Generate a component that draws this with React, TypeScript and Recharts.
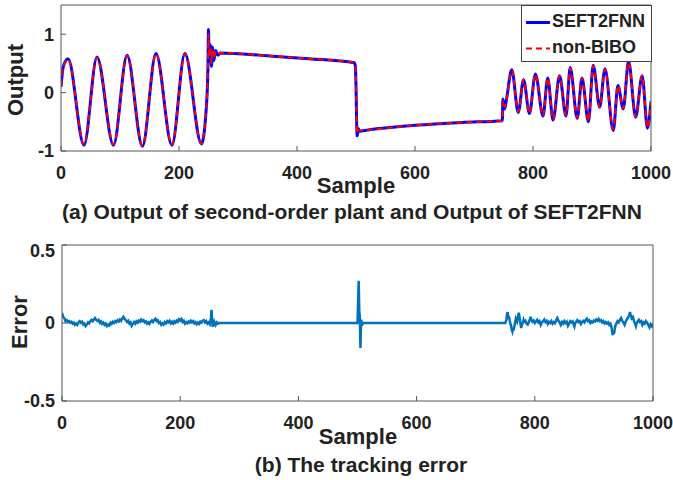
import { LineChart, Line, XAxis, YAxis } from 'recharts'

// sample index + output values (peaks, troughs, steps)
const outSamples = [
  0, 4, 12, 39, 61, 89, 112, 138, 161, 188, 210, 238, 246, 249, 250, 251, 253, 255, 257, 259, 262, 266, 270,
  350, 420, 497, 499, 502, 504, 506, 520, 600, 680, 748, 749, 752, 755, 764, 775, 784, 794, 804, 817, 825, 834,
  845, 856, 863, 875, 883, 894, 902, 913, 922, 936, 944, 953, 962, 974, 985, 994, 1000,
]
const seft2fnn = [
  0.1, 0.45, 0.58, -0.9, 0.61, -0.9, 0.64, -0.92, 0.67, -0.9, 0.67, -0.88, -0.3, 0.4, 1.08, 0.55, 0.82, 0.45, 0.78, 0.55, 0.72, 0.64, 0.68,
  0.63, 0.58, 0.51, 0.45, -0.74, -0.62, -0.66, -0.64, -0.56, -0.51, -0.48, -0.11, -0.28, -0.12, 0.39, -0.34, 0.22, -0.36, 0.32, -0.4, 0.25, -0.47,
  0.29, -0.4, 0.43, -0.44, 0.25, -0.5, 0.47, -0.25, 0.41, -0.65, 0.12, -0.28, 0.54, -0.42, 0.29, -0.61, -0.15,
]
const nonBibo = [
  0.12, 0.44, 0.57, -0.89, 0.6, -0.89, 0.63, -0.91, 0.66, -0.89, 0.66, -0.87, -0.28, 0.42, 1.0, 0.6, 0.78, 0.5, 0.74, 0.58, 0.7, 0.65, 0.68,
  0.63, 0.58, 0.51, 0.46, -0.7, -0.64, -0.65, -0.64, -0.56, -0.51, -0.48, -0.14, -0.25, -0.13, 0.38, -0.33, 0.22, -0.35, 0.31, -0.39, 0.25, -0.46,
  0.29, -0.39, 0.42, -0.43, 0.25, -0.49, 0.46, -0.25, 0.4, -0.63, 0.12, -0.27, 0.52, -0.41, 0.29, -0.6, -0.16,
]

// tracking error [sample, error]
const errStart: [number, number][] = [
  [0, 0.065], [2, 0.04], [4, 0.03], [6, 0.012], [8, 0.018], [10, 0.006], [12, 0.012], [14, 0.002], [16, 0.008], [18, -0.004],
  [20, 0.002], [22, -0.012], [24, -0.004], [26, -0.012], [28, 0.004], [30, 0.012], [32, 0.002], [34, 0.008], [36, -0.01], [38, -0.004],
  [40, -0.02], [42, -0.01], [44, 0.004], [46, -0.002], [48, 0.012], [50, 0.02], [52, 0.012], [54, 0.024], [56, 0.032], [58, 0.02],
  [60, 0.014], [62, 0.02], [64, 0.002], [66, 0.01], [68, -0.006], [70, 0.002], [72, -0.012], [74, -0.004], [76, -0.02], [78, -0.01],
  [80, -0.016], [82, 0.002], [84, -0.006], [86, 0.008], [88, 0], [90, 0.012], [92, 0.006], [94, 0.018], [96, 0.01], [98, 0.022],
  [100, 0.014], [102, 0.03], [104, 0.04], [106, 0.026], [108, 0.018], [110, 0.006], [112, 0.014], [114, -0.004], [116, 0.004], [118, -0.018],
  [120, -0.006], [122, 0.006], [124, -0.004], [126, 0.01], [128, 0.002], [130, 0.016], [132, 0.008], [134, 0.022], [136, 0.012], [138, 0.018],
  [140, 0.004], [142, 0.01], [144, -0.004], [146, 0.004], [148, -0.006], [150, 0.008], [152, 0.016], [154, 0.006], [156, 0.02], [158, 0.028],
  [160, 0.012], [162, 0.018], [164, 0], [166, 0.006], [168, -0.012], [170, -0.002], [172, -0.01], [174, 0.006], [176, -0.002], [178, 0.012],
  [180, 0.004], [182, 0.014], [184, -0.002], [186, 0.008], [188, -0.004], [190, 0.01], [192, 0.002], [194, 0.016], [196, 0.008], [198, 0.024],
  [200, 0.016], [202, 0.026], [204, 0.006], [206, 0.014], [208, -0.004], [210, 0.006], [212, -0.002], [214, 0.01], [216, 0.002], [218, 0.014],
  [220, 0.004], [222, 0.012], [224, -0.002], [226, 0.006], [228, -0.008], [230, 0.002], [232, -0.006], [234, 0.008], [236, 0.002], [238, 0.014],
  [240, 0.018], [242, 0.004], [244, 0.012], [246, -0.004], [248, 0.004], [250, -0.008], [252, 0.03], [253, 0.085], [254, 0.02], [255, -0.025],
  [256, 0.01], [257, -0.018], [258, 0.006], [260, -0.012], [262, 0.004], [264, -0.004], [266, 0],
]
const errMiddle: [number, number][] = [
  [500, 0], [502, 0.27], [503, 0.08], [504, 0.04], [505, -0.16], [506, 0.02], [508, -0.01], [510, 0],
]
const errEnd: [number, number][] = [
  [750, 0], [752, 0.02], [753, 0.06], [754, 0.07], [755, 0.03], [756, 0.045], [758, 0.008], [760, -0.02], [761, -0.045], [762, -0.055],
  [763, -0.03], [764, -0.048], [766, -0.01], [768, 0.028], [770, 0.01], [772, 0.05], [773, 0.066], [774, 0.04], [776, -0.01], [777, -0.032],
  [778, -0.015], [780, 0.006], [781, 0.02], [782, 0.008], [784, 0.014], [786, -0.004], [788, -0.01], [790, 0.006], [792, 0.028], [793, 0.04],
  [794, 0.02], [796, 0.008], [798, 0.016], [800, 0], [802, 0.01], [804, 0.02], [806, 0.004], [808, 0.012], [810, -0.012], [812, 0.004],
  [814, 0.01], [816, 0.022], [818, 0.006], [820, 0.014], [822, -0.006], [824, 0.008], [826, 0], [828, 0.012], [830, -0.004], [832, 0.006],
  [834, -0.002], [836, 0.016], [838, 0.032], [840, 0.014], [842, 0.004], [844, -0.012], [846, 0.006], [848, -0.004], [850, 0.012], [852, 0],
  [854, 0.008], [856, -0.018], [858, -0.004], [860, 0.012], [862, 0.004], [864, 0.01], [866, -0.012], [867, -0.022], [868, -0.006], [870, 0.008],
  [872, 0.018], [874, 0.006], [876, 0.012], [878, -0.006], [880, 0.006], [882, 0.014], [884, 0.004], [886, 0.02], [888, 0.028], [890, 0.012],
  [892, 0.018], [894, 0], [896, 0.01], [898, 0.004], [900, 0.016], [902, 0.01], [904, 0.022], [906, 0.014], [908, 0.026], [910, 0.012],
  [912, 0.018], [914, 0.004], [916, 0.012], [918, -0.002], [920, 0.006], [922, -0.004], [924, 0.004], [926, -0.012], [928, -0.004], [930, -0.03],
  [931, -0.06], [932, -0.078], [933, -0.055], [934, -0.07], [936, -0.022], [938, -0.004], [940, 0.012], [942, 0.004], [944, 0.02], [946, 0.032],
  [948, 0.014], [950, 0.002], [952, -0.012], [954, 0.01], [956, 0.024], [958, 0.036], [960, 0.05], [961, 0.07], [962, 0.055], [964, 0.03],
  [966, 0.038], [968, 0.01], [970, -0.008], [971, -0.02], [972, -0.004], [974, 0.01], [976, 0.02], [978, 0.006], [980, 0.012], [982, -0.012],
  [984, 0.004], [986, -0.004], [988, 0.012], [990, 0.002], [992, -0.012], [994, -0.028], [996, -0.008], [998, -0.02], [1000, -0.004],
]

const xTicks = [0, 200, 400, 600, 800, 1000]
const outTicks = [-1, 0, 1]
const errTicks = [-0.5, 0, 0.5]

const seftData = outSamples.map((x, i) => ({ x, y: seft2fnn[i] }))
const biboData = outSamples.map((x, i) => ({ x, y: nonBibo[i] }))
const errData = [...errStart, ...errMiddle, ...errEnd].map(([x, y]) => ({ x, y }))

const FONT = '"Liberation Sans", Arial, sans-serif'
const TXT = '#222'
const AX = '#555'
const tickStyle = { fill: TXT, fontSize: 18, fontWeight: 700, fontFamily: FONT }
const blank = () => ''

function Axes({ yTicks, yDomain, left, right }: { yTicks: number[]; yDomain: number[]; left: number; right: number }) {
  return [
    <XAxis key="xb" xAxisId="b" dataKey="x" type="number" domain={[0, 1000]} ticks={xTicks} allowDataOverflow
      stroke={AX} tickSize={-5} tickMargin={20} tick={tickStyle} height={30} />,
    <XAxis key="xt" xAxisId="t" orientation="top" dataKey="x" type="number" domain={[0, 1000]} ticks={xTicks}
      stroke={AX} tickSize={-5} tickFormatter={blank} height={5} />,
    <YAxis key="yl" yAxisId="l" type="number" domain={yDomain} ticks={yTicks} allowDataOverflow
      stroke={AX} tickSize={-5} tickMargin={12} tick={tickStyle} width={left} />,
    <YAxis key="yr" yAxisId="r" orientation="right" type="number" domain={yDomain} ticks={yTicks}
      stroke={AX} tickSize={-5} tickFormatter={blank} width={right} />,
  ]
}

const abs = (left: number, top: number, extra: object = {}) => ({
  position: 'absolute' as const,
  left,
  top,
  fontFamily: FONT,
  fontWeight: 700,
  color: TXT,
  whiteSpace: 'nowrap' as const,
  ...extra,
})

export default function App() {
  return (
    <div style={{ position: 'fixed', left: 0, top: 0, width: 673, height: 480, background: '#fff', overflow: 'hidden' }}>
      <div style={{ position: 'absolute', left: 0, top: 0 }}>
        <LineChart width={673} height={200} margin={{ top: 0, right: 0, bottom: 19, left: 0 }}>
          {Axes({ yTicks: outTicks, yDomain: [-1, 1.5], left: 61, right: 22 })}
          <Line data={seftData} dataKey="y" xAxisId="b" yAxisId="l" type="monotone" stroke="#0000ff"
            strokeWidth={3} dot={false} isAnimationActive={false} />
          <Line data={biboData} dataKey="y" xAxisId="b" yAxisId="l" type="monotone" stroke="#ff0000"
            strokeWidth={2} strokeDasharray="6 4" dot={false} isAnimationActive={false} />
        </LineChart>
      </div>
      <div style={{ position: 'absolute', left: 0, top: 240 }}>
        <LineChart width={673} height={200} margin={{ top: 0, right: 0, bottom: 9, left: 0 }}>
          {Axes({ yTicks: errTicks, yDomain: [-0.5, 0.5], left: 62, right: 20 })}
          <Line data={errData} dataKey="y" xAxisId="b" yAxisId="l" type="linear" stroke="#0072bd"
            strokeWidth={2.5} dot={false} isAnimationActive={false} />
        </LineChart>
      </div>

      {/* legend */}
      <div style={{ position: 'absolute', left: 521, top: 5, width: 129, height: 55, background: '#fff', border: '1px solid #444' }}>
        <svg width={28} height={55} style={{ position: 'absolute', left: 2, top: 0 }}>
          <line x1={2} x2={26} y1={16.5} y2={16.5} stroke="#0000ff" strokeWidth={3} />
          <line x1={2} x2={26} y1={42.5} y2={42.5} stroke="#ff0000" strokeWidth={2} strokeDasharray="6 4" />
        </svg>
        <div style={abs(30, 5, { fontSize: 18 })}>SEFT2FNN</div>
        <div style={abs(30, 31, { fontSize: 18 })}>non-BIBO</div>
      </div>

      {/* axis labels and captions */}
      <div style={abs(16, 80, { fontSize: 22, transform: 'translate(-50%, -50%) rotate(-90deg)' })}>Output</div>
      <div style={abs(20, 322, { fontSize: 22, transform: 'translate(-50%, -50%) rotate(-90deg)' })}>Error</div>
      <div style={abs(356, 186, { fontSize: 22, transform: 'translate(-50%, -50%)' })}>Sample</div>
      <div style={abs(352, 212, { fontSize: 21, transform: 'translate(-50%, -50%)' })}>
        (a) Output of second-order plant and Output of SEFT2FNN
      </div>
      <div style={abs(358, 437, { fontSize: 22, transform: 'translate(-50%, -50%)' })}>Sample</div>
      <div style={abs(361, 465, { fontSize: 21, transform: 'translate(-50%, -50%)' })}>(b) The tracking error</div>
    </div>
  )
}
